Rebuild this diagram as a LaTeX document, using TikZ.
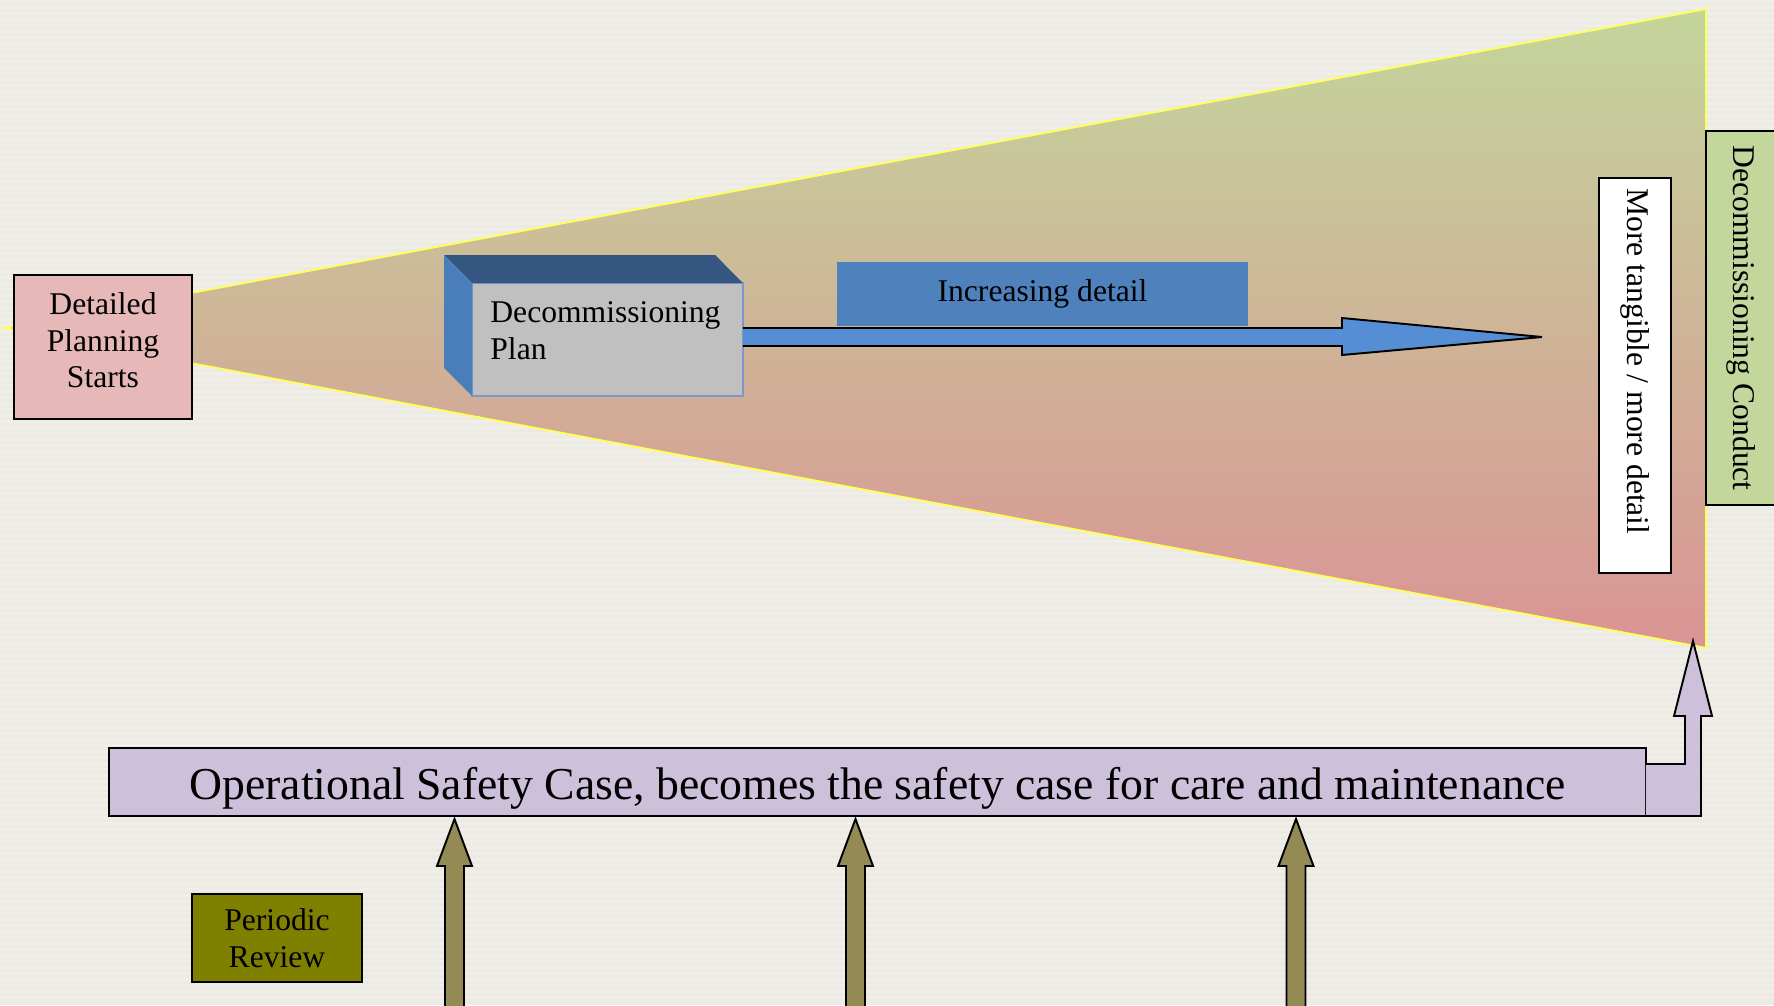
\documentclass[tikz,border=0pt]{standalone}
\usepackage{fontspec}
\setmainfont{Liberation Serif}
\usetikzlibrary{positioning}
\definecolor{bgpaper}{RGB}{237,234,228}
\definecolor{wedgetop}{RGB}{195,213,155}
\definecolor{wedgemid}{RGB}{206,185,150}
\definecolor{wedgebot}{RGB}{218,148,148}
\definecolor{wedgeedge}{RGB}{255,255,90}
\definecolor{pinkbox}{RGB}{230,185,184}
\definecolor{plangray}{RGB}{192,192,192}
\definecolor{planedge}{RGB}{124,152,200}
\definecolor{plantop}{RGB}{53,86,129}
\definecolor{planside}{RGB}{74,126,187}
\definecolor{detailblue}{RGB}{79,129,189}
\definecolor{arrowblue}{RGB}{85,142,213}
\definecolor{conductgreen}{RGB}{195,214,155}
\definecolor{osclilac}{RGB}{204,192,218}
\definecolor{periodolive}{RGB}{128,128,0}
\definecolor{reviewarrow}{RGB}{148,138,84}
\begin{document}
\begin{tikzpicture}[x=0.02cm, y=-0.02cm,
        box/.style={draw=black, line width=1.2pt, inner sep=0pt, outer sep=0pt, align=center, font=\fontsize{18}{21}\selectfont},
        boxtext/.style={inner sep=0pt, align=center, font=\fontsize{18}{20.7}\selectfont},
        fatarrow/.style={draw=black, line width=1.1pt, line join=miter}]
        \fill[bgpaper] (0,0) rectangle (1774,1005);
        \foreach \yb in {0,6,...,1000}
            \fill[white, opacity=0.22] (0,\yb) rectangle (1774,\yb+2.5);
        \useasboundingbox (0,0) rectangle (1774,1005);
        % widening wedge
        \shade[top color=wedgetop, middle color=wedgemid, bottom color=wedgebot] (4,328) -- (1706,9) -- (1706,648) -- cycle;
        \draw[wedgeedge, line width=1.1pt] (4,328) -- (1706,9) -- (1706,648) -- cycle;
        \node[box, fill=pinkbox, minimum width=3.56cm, minimum height=2.88cm] (detailed) at (103,347) {};
        \node[boxtext] (detailedtext) at ([yshift=0.13cm]detailed.center) {Detailed\\Planning\\Starts};
        % plan block
        \node[draw=planedge, line width=1.2pt, fill=plangray, minimum width=5.42cm, minimum height=2.26cm, inner sep=0pt, outer sep=0pt] (plan) at (607.5,339.5) {};
        \fill[plantop] (plan.north west) -- ++(-28,-28) -- ++(271,0) -- (plan.north east) -- cycle;
        \fill[planside] (plan.north west) -- ++(-28,-28) -- ++(0,113) -- (plan.south west) -- cycle;
        \node[anchor=west, align=left, inner sep=0pt, font=\fontsize{18}{21}\selectfont] (plantext) at ([xshift=0.36cm, yshift=0.18cm]plan.west) {Decommissioning\\Plan};
        \node[fill=detailblue, minimum width=8.22cm, minimum height=1.28cm, inner sep=0pt, font=\fontsize{18}{21}\selectfont] (detail) at (1042.5,294) {Increasing detail};
        \draw[fatarrow, fill=arrowblue] (plan.east |- 0,328) -- (1342,328) -- (1342,318) -- (1542,337) -- (1342,355) -- (1342,346) -- (plan.east |- 0,346);
        % right hand boxes
        \node[box, fill=white, rotate=-90, minimum width=7.9cm, minimum height=1.44cm] (tangible) at (1635,375.5) {};
        \node[boxtext, rotate=-90] (tangibletext) at ([yshift=0.28cm]tangible.center) {More tangible / more detail};
        \node[box, fill=conductgreen, rotate=-90, minimum width=7.48cm, minimum height=1.4cm] (conduct) at (1741,318) {Decommissioning Conduct};
        % safety case bar
        \node[box, fill=osclilac, minimum width=30.74cm, minimum height=1.36cm] (osc) at (877.5,782) {};
        \node[inner sep=0pt, font=\fontsize{26}{30}\selectfont] (osctext) at ([yshift=-0.12cm]osc.center) {Operational Safety Case, becomes the safety case for care and maintenance};
        \draw[fatarrow, fill=osclilac] (osc.east |- 0,764) -- (1685,764) -- (1685,716) -- (1674,716) -- (1693,641) -- (1712,716) -- (1701,716) -- (1701,816) -- (osc.south east);
        \node[box, fill=periodolive, minimum width=3.4cm, minimum height=1.76cm] (periodic) at (277,938) {Periodic\\Review};
        \foreach \xa in {454.5,855.5,1296}
            \draw[fatarrow, fill=reviewarrow] (\xa-9.5,1012) -- (\xa-9.5,866) -- (\xa-17.5,866) -- (\xa,819) -- (\xa+17.5,866) -- (\xa+9.5,866) -- (\xa+9.5,1012);
    \end{tikzpicture}
\end{document}
